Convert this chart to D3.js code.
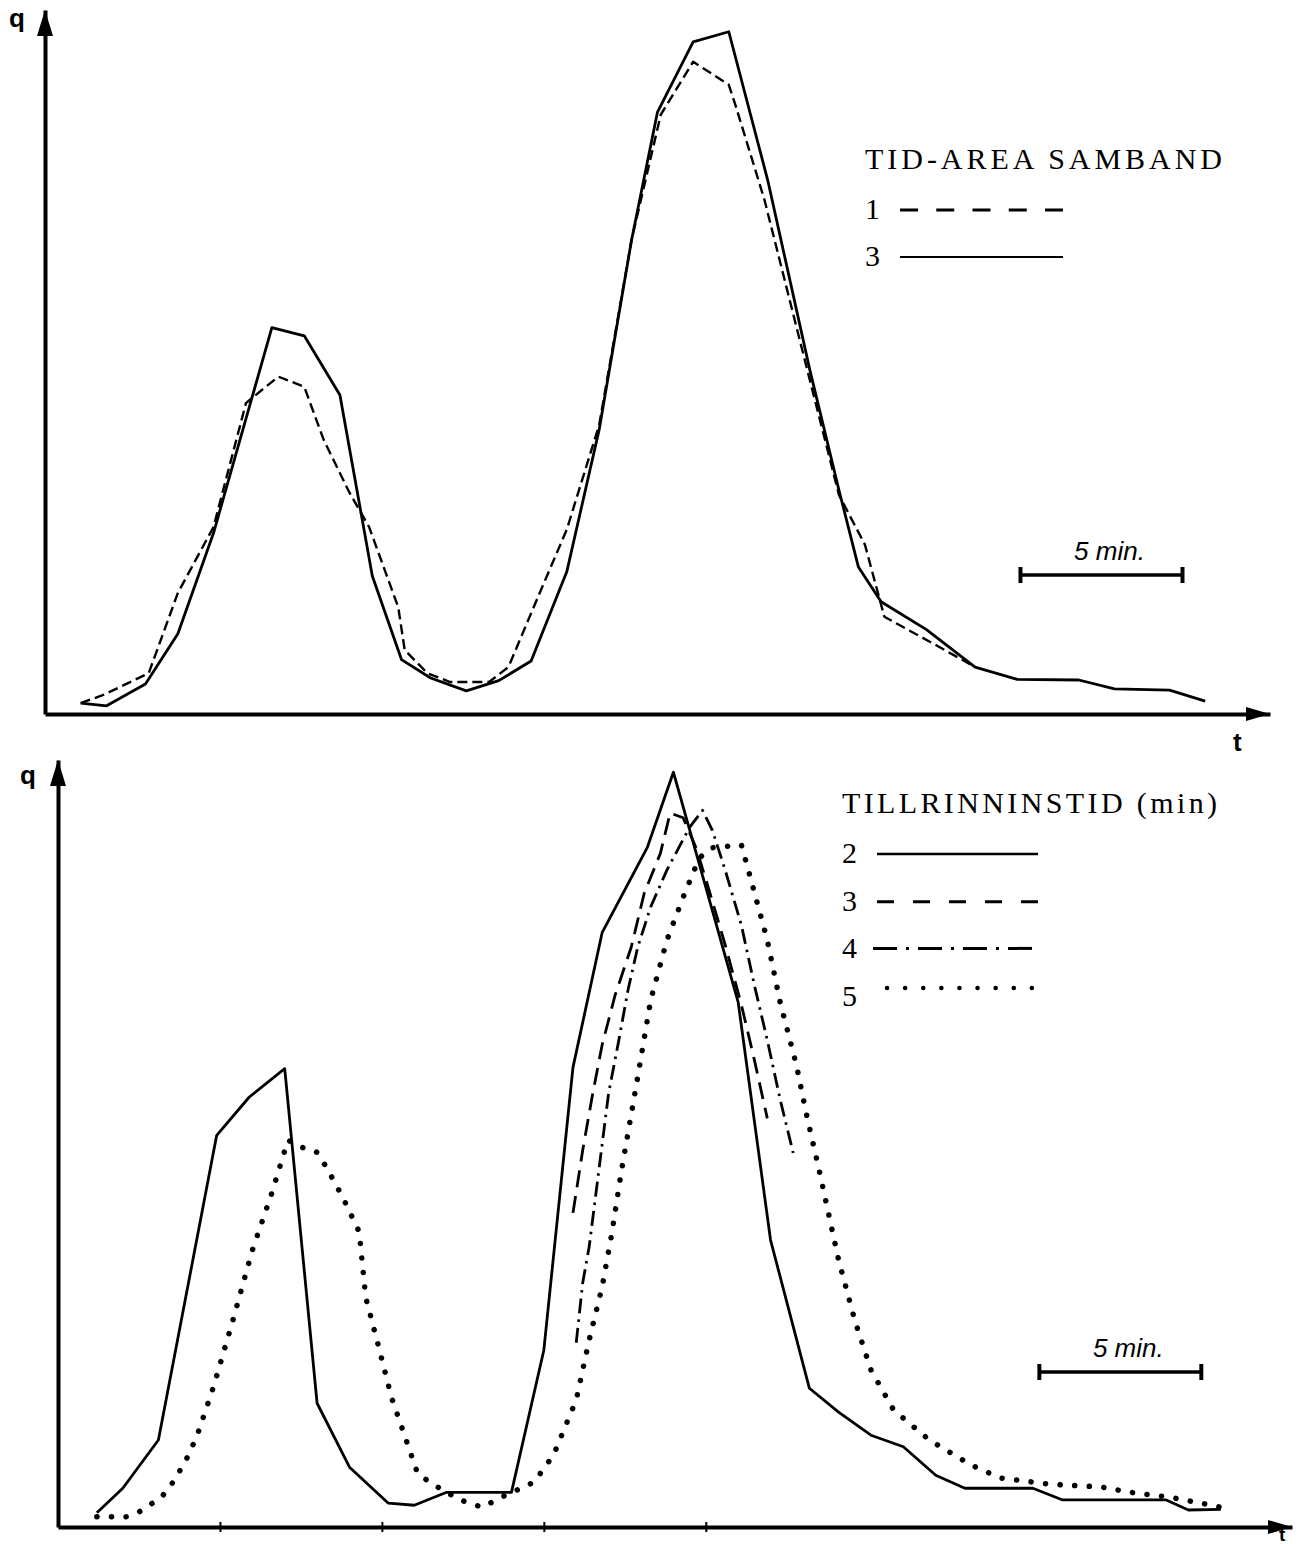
<!DOCTYPE html>
<html>
<head>
<meta charset="utf-8">
<script src="https://cdn.jsdelivr.net/npm/d3@7"></script>
<style>
  body { margin: 0; background: #fff; }
  .legend { font-family: "Liberation Serif", "DejaVu Serif", serif; font-size: 30px; fill: #000; }
  .hand { font-family: "Liberation Sans", "DejaVu Sans", sans-serif; font-style: italic; font-size: 26px; fill: #000; }
  .axlabel { font-family: "Liberation Sans", "DejaVu Sans", sans-serif; font-weight: bold; font-size: 26px; fill: #000; }
</style>
</head>
<body>
<svg id="chart" width="1306" height="1544"></svg>
<script>
// ---- top panel: TID-AREA SAMBAND (t in min, q relative) ----
const topT3 = [1.1, 1.9, 3.1, 4.1, 5.2, 7.0, 8.0, 9.1, 10.1, 11.0, 11.9, 13.0, 14.0, 15.0, 16.1, 17.1, 18.1, 18.9, 20.0, 21.1, 22.3, 23.6, 24.5, 25.1, 25.8, 27.2, 28.7, 30.0, 31.9, 33.0, 34.7, 35.8];
const topQ3 = [1.6, 1.2, 4.4, 11.8, 26.6, 56.8, 55.6, 46.9, 20.3, 8.0, 5.3, 3.4, 4.9, 7.8, 20.9, 41.8, 69.7, 88.5, 98.8, 100.3, 78.5, 50.6, 32.9, 21.6, 16.5, 12.4, 6.9, 5.1, 5.0, 3.7, 3.5, 1.9];
const topT1 = [1.1, 1.8, 3.2, 4.1, 5.2, 6.2, 6.4, 7.2, 8.0, 8.6, 9.4, 10.0, 10.9, 11.1, 11.8, 12.5, 13.7, 14.3, 15.3, 16.1, 17.1, 18.1, 19.0, 20.0, 21.1, 21.3, 22.2, 23.6, 24.5, 25.3, 25.9, 27.5, 28.7];
const topQ1 = [1.6, 2.8, 6.0, 17.8, 27.5, 45.7, 46.5, 49.6, 48.1, 40.3, 32.5, 27.5, 15.7, 9.4, 6.0, 4.7, 4.7, 6.9, 18.2, 27.1, 42.5, 69.7, 88.1, 95.9, 92.5, 89.6, 75.6, 49.1, 32.2, 24.9, 14.3, 10.1, 6.9];

// ---- bottom panel: TILLRINNINSTID (min) ----
const botT2 = [1.2, 2.0, 3.1, 4.9, 5.9, 7.0, 8.0, 9.0, 10.2, 11.0, 12.0, 14.0, 15.0, 15.9, 16.8, 18.2, 19.0, 21.0, 22.0, 23.2, 24.1, 25.1, 26.1, 27.1, 28.0, 30.1, 31.0, 34.2, 34.9, 35.9];
const botQ2 = [2.1, 5.7, 12.8, 57.6, 63.2, 67.4, 18.2, 8.8, 3.5, 3.2, 5.1, 5.1, 26.0, 67.6, 87.4, 100.0, 111.0, 77.2, 42.2, 20.4, 16.9, 13.5, 11.8, 7.6, 5.7, 5.7, 4.0, 4.0, 2.5, 2.6];
const botT3 = [15.9, 16.2, 16.5, 16.8, 17.2, 17.7, 18.1, 18.6, 18.9, 19.3, 19.7, 20.1, 20.6, 21.1, 21.5, 21.9];
const botQ3 = [46.2, 55.4, 63.5, 70.9, 78.2, 85.3, 93.2, 99.1, 105.0, 104.3, 99.9, 93.7, 85.6, 76.8, 68.7, 60.1];
const botT4 = [16.0, 16.2, 16.4, 16.7, 17.0, 17.3, 17.6, 17.9, 18.3, 18.8, 19.5, 19.9, 20.2, 20.6, 21.1, 21.5, 21.9, 22.3, 22.7];
const botQ4 = [27.1, 35.9, 41.2, 52.5, 63.8, 71.2, 79.0, 85.3, 91.2, 96.6, 102.9, 105.4, 102.5, 96.6, 88.5, 79.7, 71.6, 62.8, 55.0];
const botT5 = [1.2, 2.1, 2.5, 3.2, 3.6, 4.0, 4.3, 4.8, 5.4, 6.0, 6.6, 7.1, 7.5, 8.0, 8.3, 8.8, 9.3, 9.5, 9.9, 10.3, 10.8, 11.1, 11.5, 12.4, 13.1, 13.7, 14.7, 15.3, 16.0, 16.4, 16.8, 17.1, 17.4, 17.9, 18.3, 18.8, 19.3, 19.8, 20.2, 21.1, 21.4, 21.9, 22.3, 22.8, 23.1, 23.5, 24.1, 24.6, 25.1, 25.8, 26.9, 28.2, 29.1, 30.6, 32.2, 33.1, 34.3, 35.3, 35.9];
const botQ5 = [1.5, 1.5, 2.2, 4.4, 6.9, 10.3, 13.5, 20.6, 30.4, 40.7, 49.1, 56.9, 55.9, 55.1, 52.8, 48.4, 43.4, 33.8, 26.5, 19.0, 12.1, 7.9, 6.5, 4.0, 2.9, 4.4, 6.6, 10.6, 18.7, 27.5, 35.3, 43.2, 52.5, 66.2, 77.5, 86.3, 92.6, 98.4, 99.9, 100.3, 95.1, 86.3, 77.1, 67.9, 60.9, 52.5, 39.3, 30.4, 23.1, 17.2, 12.8, 9.1, 7.2, 6.3, 5.9, 5.1, 4.4, 3.5, 2.9];

const botTicks = [5, 10, 15, 20];
const topLegend = ["1", "3"];
const botLegend = ["2", "3", "4", "5"];

const zip = (t, q) => t.map((d, i) => [d, q[i]]);

const svg = d3.select("#chart");

// scales
const xTop = d3.scaleLinear().domain([0, 37.8]).range([45, 1270]);
const yTop = d3.scaleLinear().domain([0, 103.5]).range([714, 10]);
const xBot = d3.scaleLinear().domain([0, 38.1]).range([58, 1292]);
const yBot = d3.scaleLinear().domain([0, 112.8]).range([1527, 760]);

// line styles
const styles = {
  solid:   { dash: null, width: 2.8, cap: "butt" },
  dashTop: { dash: "10,5", width: 2.4, cap: "butt" },
  dashed:  { dash: "17,9", width: 2.8, cap: "butt" },
  dashdot: { dash: "15,6,2.5,6", width: 2.8, cap: "butt" },
  dotted:  { dash: "0.1,14.5", width: 5.5, cap: "round" }
};

function drawSeries(x, y, data, st) {
  const line = d3.line().x(d => x(d[0])).y(d => y(d[1]));
  svg.append("path")
    .datum(data)
    .attr("d", line)
    .attr("fill", "none")
    .attr("stroke", "#000")
    .attr("stroke-width", st.width)
    .attr("stroke-linejoin", "round")
    .attr("stroke-linecap", st.cap)
    .attr("stroke-dasharray", st.dash);
}

function drawAxes(x, y, ticks) {
  const gx = svg.append("g")
    .attr("transform", `translate(0,${y(0)})`)
    .call(d3.axisBottom(x).tickValues(ticks).tickSize(6).tickSizeOuter(0).tickFormat(""));
  gx.select(".domain").attr("stroke-width", 4);
  gx.selectAll(".tick line").attr("stroke-width", 2).attr("y1", -5).attr("y2", 5);

  const gy = svg.append("g")
    .attr("transform", `translate(${x(0)},0)`)
    .call(d3.axisLeft(y).tickValues([]).tickSizeOuter(0));
  gy.select(".domain").attr("stroke-width", 4);

  // arrow heads
  const x0 = x(0), y0 = y(0), xEnd = x.range()[1], yEnd = y.range()[1];
  svg.append("path")
    .attr("d", `M${x0},${yEnd} L${x0 - 8},${yEnd + 26} L${x0 + 8},${yEnd + 26} Z`)
    .attr("fill", "#000");
  svg.append("path")
    .attr("d", `M${xEnd},${y0} L${xEnd - 24},${y0 - 7} L${xEnd - 24},${y0 + 7} Z`)
    .attr("fill", "#000");
}

function scaleBar(x, t0, yPix, label) {
  const x1 = x(t0), x2 = x(t0 + 5);
  const g = svg.append("g");
  g.append("line").attr("x1", x1).attr("x2", x2).attr("y1", yPix).attr("y2", yPix)
    .attr("stroke", "#000").attr("stroke-width", 3.5);
  [x1, x2].forEach(xx => g.append("line")
    .attr("x1", xx).attr("x2", xx).attr("y1", yPix - 8).attr("y2", yPix + 8)
    .attr("stroke", "#000").attr("stroke-width", 4));
  g.append("text").attr("class", "hand")
    .attr("x", (x1 + x2) / 2 + 8).attr("y", yPix - 15)
    .attr("text-anchor", "middle")
    .text(label);
}

// ---- top panel ----
drawAxes(xTop, yTop, []);
drawSeries(xTop, yTop, zip(topT1, topQ1), styles.dashTop);
drawSeries(xTop, yTop, zip(topT3, topQ3), styles.solid);

svg.append("text").attr("class", "axlabel").attr("x", 9).attr("y", 27).text("q");
svg.append("text").attr("class", "axlabel").attr("x", 1233).attr("y", 751).text("t");

svg.append("text").attr("class", "legend")
  .attr("x", 865).attr("y", 169)
  .attr("textLength", 357).attr("lengthAdjust", "spacing")
  .text("TID-AREA SAMBAND");

const topLegStyles = [{ dash: "18,18.25", width: 3 }, { dash: null, width: 2.2 }];
topLegend.forEach((k, i) => {
  const yy = 219 + i * 47;
  svg.append("text").attr("class", "legend").attr("x", 865).attr("y", yy).text(k);
  svg.append("line")
    .attr("x1", 900).attr("x2", 1063).attr("y1", yy - 9).attr("y2", yy - 9)
    .attr("stroke", "#000").attr("stroke-width", topLegStyles[i].width)
    .attr("stroke-dasharray", topLegStyles[i].dash);
});

scaleBar(xTop, 30.1, 575, "5 min.");

// ---- bottom panel ----
drawAxes(xBot, yBot, botTicks);
drawSeries(xBot, yBot, zip(botT5, botQ5), styles.dotted);
drawSeries(xBot, yBot, zip(botT4, botQ4), styles.dashdot);
drawSeries(xBot, yBot, zip(botT3, botQ3), styles.dashed);
drawSeries(xBot, yBot, zip(botT2, botQ2), styles.solid);

svg.append("text").attr("class", "axlabel").attr("x", 20).attr("y", 784).text("q");
svg.append("text").attr("class", "axlabel").attr("x", 1279).attr("y", 1541).style("font-size", "19px").text("t");

svg.append("text").attr("class", "legend")
  .attr("x", 842).attr("y", 813)
  .attr("textLength", 375).attr("lengthAdjust", "spacing")
  .text("TILLRINNINSTID (min)");

const botLegStyles = [
  { dash: null, width: 2.4, cap: "butt", x1: 877, x2: 1038, dy: -9 },
  { dash: "17,19", width: 3, cap: "butt", x1: 877, x2: 1038, dy: -9 },
  { dash: "24,9,3,9", width: 3, cap: "butt", x1: 873, x2: 1040, dy: -10 },
  { dash: "0.1,18", width: 4.5, cap: "round", x1: 887, x2: 1048, dy: -18 }
];
botLegend.forEach((k, i) => {
  const yy = 863 + i * 47.7;
  const st = botLegStyles[i];
  svg.append("text").attr("class", "legend").attr("x", 842).attr("y", yy).text(k);
  svg.append("line")
    .attr("x1", st.x1).attr("x2", st.x2).attr("y1", yy + st.dy).attr("y2", yy + st.dy)
    .attr("stroke", "#000").attr("stroke-width", st.width)
    .attr("stroke-linecap", st.cap)
    .attr("stroke-dasharray", st.dash);
});

scaleBar(xBot, 30.3, 1372, "5 min.");
</script>
</body>
</html>
